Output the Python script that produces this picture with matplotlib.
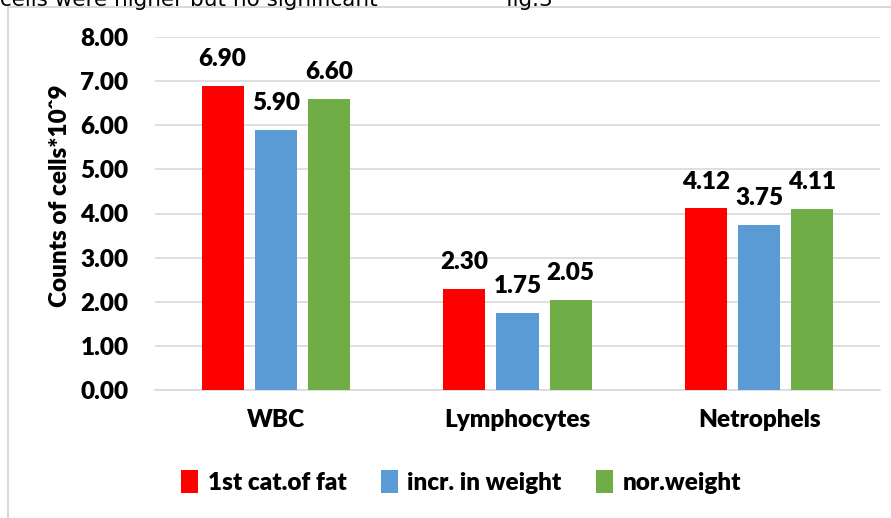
import matplotlib.pyplot as plt
import numpy as np
from matplotlib.patches import Rectangle

categories = ["WBC", "Lymphocytes", "Netrophels"]
series_names = ["1st cat.of fat", "incr. in weight", "nor.weight"]
fat_1st = [6.90, 2.30, 4.12]
incr_weight = [5.90, 1.75, 3.75]
nor_weight = [6.60, 2.05, 4.11]
y_ticks = [0, 1, 2, 3, 4, 5, 6, 7, 8]

colors = ["#FF0000", "#5B9BD5", "#70AD47"]
font = "Lato"
fs = 17.5
wt = "heavy"

fig = plt.figure(figsize=(8.91, 5.18), dpi=100)

# chart frame
fig.patches.append(Rectangle((8 / 891, -0.05), 890 / 891, 1 - 7 / 518 + 0.05,
                             transform=fig.transFigure, fill=False,
                             edgecolor="#D9D9D9", linewidth=1.5))
# caption text running off the top
fig.text(0.0, 1.0, "cells were higher but no significant", fontsize=15.5,
         color="black", va="center", ha="left")
fig.text(505 / 891, 1.0, "fig.3", fontsize=15.5, color="black", va="center", ha="left")

ax = fig.add_axes([155 / 891, 1 - 390 / 518, 725 / 891, 353 / 518])

x = np.arange(len(categories))
width = 0.175
offset = 0.22
for i, (vals, name) in enumerate(zip([fat_1st, incr_weight, nor_weight], series_names)):
    bars = ax.bar(x + (i - 1) * offset, vals, width, color=colors[i], label=name, zorder=3)
    for b, v in zip(bars, vals):
        ax.text(b.get_x() + b.get_width() / 2, v + 0.35, f"{v:.2f}", ha="center", va="bottom",
                fontsize=fs, fontweight=wt, family=font)

ax.set_xlim(-0.5, 2.5)
ax.set_ylim(0, 8)
ax.set_yticks(y_ticks)
ax.set_yticklabels([f"{t:.2f}" for t in y_ticks], fontsize=fs, fontweight=wt, family=font)
ax.set_xticks(x)
ax.set_xticklabels(categories, fontsize=fs, fontweight=wt, family=font)
ax.tick_params(axis="both", length=0)
ax.tick_params(axis="y", pad=19)
ax.tick_params(axis="x", pad=14)
ax.grid(axis="y", color="#D9D9D9", linewidth=1.2, zorder=0)
for s in ["top", "right", "left"]:
    ax.spines[s].set_visible(False)
ax.spines["bottom"].set_color("#D9D9D9")
ax.spines["bottom"].set_linewidth(1.2)

ax.set_ylabel("Counts of cells*10ˆ9", fontsize=fs, fontweight=wt,
              family=[font, "DejaVu Sans"], va="center")
ax.yaxis.set_label_coords(-95 / 725, 0.55)

leg = fig.legend(loc="center", bbox_to_anchor=(461 / 891, 1 - 482 / 518), ncol=3, frameon=False,
                 prop={"family": font, "weight": wt, "size": fs},
                 handlelength=0.7, handleheight=1.1, handletextpad=0.4, columnspacing=1.4)

plt.savefig("out.png", dpi=100)
